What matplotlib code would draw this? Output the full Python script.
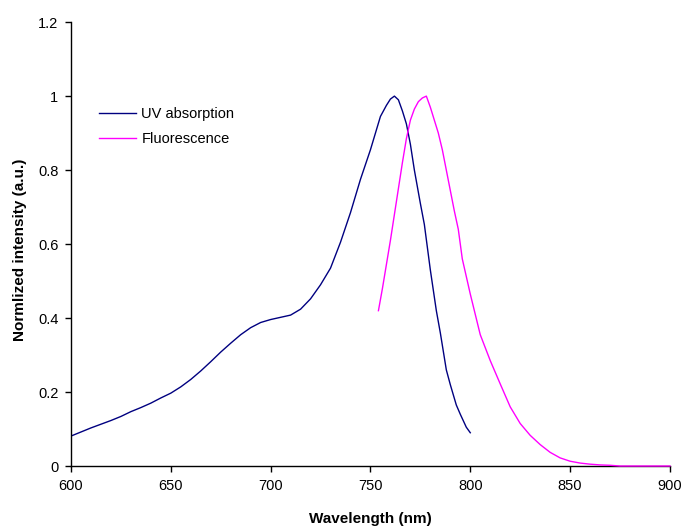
import matplotlib.pyplot as plt
from matplotlib.ticker import FuncFormatter

plt.rcParams['font.family'] = ['Liberation Sans', 'DejaVu Sans']

# UV-vis absorption spectrum (normalized)
uv_wl = [600, 605, 610, 615, 620, 625, 630, 635, 640, 645, 650, 655, 660, 665,
         670, 675, 680, 685, 690, 695, 700, 705, 710, 715, 720, 725, 730, 735,
         740, 745, 750, 755, 758, 760, 762, 764, 766, 768, 770, 772, 775, 777,
         780, 783, 785, 788, 790, 793, 795, 798, 800]
uv_int = [0.081, 0.092, 0.103, 0.113, 0.123, 0.134, 0.147, 0.158, 0.170, 0.184,
          0.197, 0.214, 0.234, 0.257, 0.282, 0.308, 0.332, 0.355, 0.374, 0.388,
          0.396, 0.402, 0.408, 0.424, 0.452, 0.490, 0.535, 0.605, 0.685, 0.775,
          0.855, 0.945, 0.975, 0.992, 1.0, 0.99, 0.96, 0.925, 0.87, 0.80, 0.71,
          0.653, 0.53, 0.42, 0.36, 0.26, 0.22, 0.165, 0.14, 0.105, 0.09]

# Fluorescence emission spectrum (normalized)
fl_wl = [754, 756, 758, 760, 762, 764, 766, 768, 770, 772, 774, 776, 778, 780,
         782, 784, 786, 788, 790, 792, 794, 796, 800, 805, 810, 815, 820, 825,
         830, 835, 840, 845, 850, 855, 860, 865, 870, 875, 880, 890, 900]
fl_int = [0.42, 0.48, 0.545, 0.61, 0.68, 0.75, 0.82, 0.885, 0.935, 0.965, 0.985,
          0.995, 1.0, 0.97, 0.935, 0.9, 0.855, 0.80, 0.745, 0.69, 0.64, 0.56,
          0.465, 0.355, 0.285, 0.222, 0.16, 0.115, 0.083, 0.058, 0.037, 0.022,
          0.013, 0.008, 0.005, 0.003, 0.002, 0.0, 0.0, 0.0, 0.0]

fig = plt.figure(figsize=(6.85, 5.27), dpi=100)
ax = fig.add_axes([0.1036, 0.1157, 0.8744, 0.8423])

ax.plot(uv_wl, uv_int, color='#000080', lw=1.0, label='UV absorption')
ax.plot(fl_wl, fl_int, color='#FF00FF', lw=1.0, label='Fluorescence',
        clip_on=False, zorder=5)

ax.set_xlim(600, 900)
ax.set_ylim(0, 1.2)
ax.set_xticks(range(600, 901, 50))
ax.set_yticks([0, 0.2, 0.4, 0.6, 0.8, 1.0, 1.2])
ax.yaxis.set_major_formatter(FuncFormatter(lambda v, p: f'{v:g}'))

for s in ['top', 'right']:
    ax.spines[s].set_visible(False)
for s in ['left', 'bottom']:
    ax.spines[s].set_linewidth(1.0)
ax.tick_params(direction='out', length=4, width=1.0, labelsize=10.5, pad=5)

ax.set_xlabel('Wavelength (nm)', fontsize=11, fontweight='bold', labelpad=14)
ax.set_ylabel('Normlized intensity (a.u.)', fontsize=11, fontweight='bold')
ax.yaxis.set_label_coords(-0.074, 0.486)

ax.legend(loc='upper left', bbox_to_anchor=(0.025, 0.838), frameon=False,
          fontsize=10.5, handlelength=2.5, handletextpad=0.4, labelspacing=0.75)

fig.savefig('out.png', dpi=100)
